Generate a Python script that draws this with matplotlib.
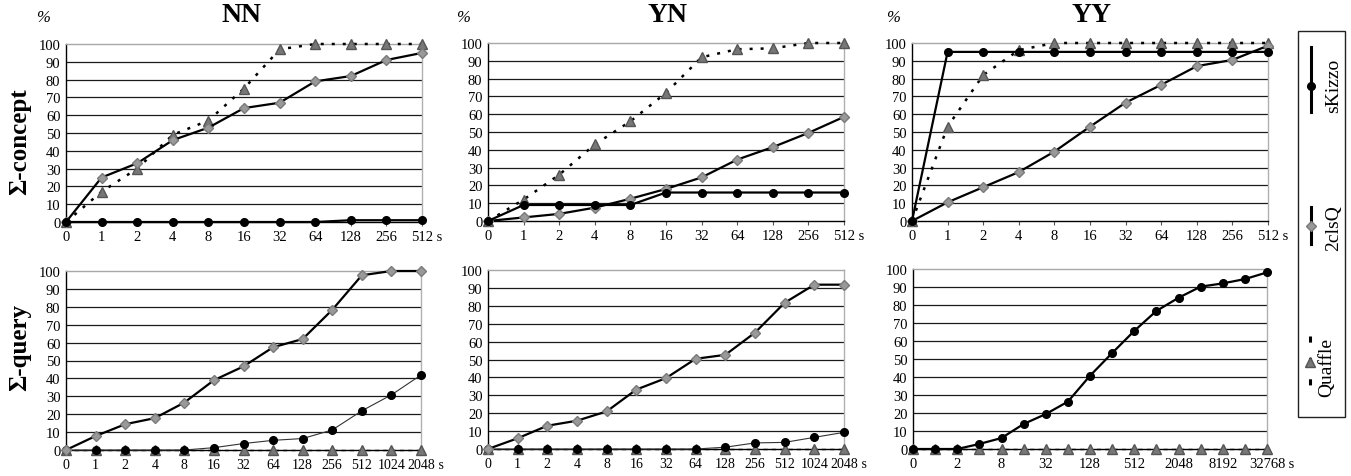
"""Cumulative solved-instance curves for sKizzo, 2clsQ and Quaffle (NN / YN / YY)."""

import matplotlib
matplotlib.use("Agg")
import matplotlib.pyplot as plt
from matplotlib.patches import Rectangle

plt.rcParams["font.family"] = ["Liberation Serif", "DejaVu Serif"]

W, H = 1351, 477

# ---- data -------------------------------------------------------------
top_times = ["0", "1", "2", "4", "8", "16", "32", "64", "128", "256", "512"]
bot_times = ["0", "1", "2", "4", "8", "16", "32", "64", "128", "256", "512",
             "1024", "2048"]
yy_query_times = ["0", "", "2", "", "8", "", "32", "", "128", "", "512", "",
                  "2048", "", "8192", "", "32768"]
time_unit = "s"

# Sigma-concept
nn_con_quaffle = [0, 17, 30, 49, 57, 75, 97, 100, 100, 100, 100]
nn_con_2clsq = [0, 25, 33, 46, 53, 64, 67, 79, 82, 91, 95]
nn_con_skizzo = [0, 0, 0, 0, 0, 0, 0, 0, 1, 1, 1]

yn_con_quaffle = [0, 12, 26, 43, 56, 72, 92, 96.5, 97, 100, 100]
yn_con_2clsq = [0, 2, 4, 7.5, 12.5, 18, 24.5, 34.5, 41.5, 49.5, 58.5]
yn_con_skizzo = [0, 9, 9, 9, 9, 16, 16, 16, 16, 16, 16]

yy_con_quaffle = [0, 53, 82, 96, 100, 100, 100, 100, 100, 100, 100]
yy_con_2clsq = [0, 10.5, 19, 27.5, 39, 53, 66.5, 76.5, 87, 90.5, 98.5]
yy_con_skizzo = [0, 95, 95, 95, 95, 95, 95, 95, 95, 95, 95]

# Sigma-query
nn_q_quaffle = [0, 0, 0, 0, 0, 0, 0, 0, 0, 0, 0, 0, 0]
nn_q_2clsq = [0, 7.8, 14.4, 17.8, 26.5, 39, 46.7, 57.4, 62, 78.3, 97.6, 100, 100]
nn_q_skizzo = [0, 0, 0, 0, 0, 1.3, 3.6, 5.4, 6.4, 11.2, 21.9, 30.8, 41.9]

yn_q_quaffle = [0, 0, 0, 0, 0, 0, 0, 0, 0, 0, 0, 0, 0]
yn_q_2clsq = [0, 6, 13, 15.8, 21, 33.2, 39.6, 50.4, 52.6, 65, 81.7, 91.8, 91.8]
yn_q_skizzo = [0, 0, 0, 0, 0, 0, 0, 0, 1, 3.4, 3.7, 6.5, 9.3]

yy_q_quaffle = [0] * 17
yy_q_skizzo = [0, 0, 0, 2.8, 6.1, 13.9, 19.4, 26.3, 40.7, 53.3, 65.6, 76.7,
               84, 90.2, 92, 94.4, 98.1]

titles = ["NN", "YN", "YY"]
row_labels = ["\u03a3-concept", "\u03a3-query"]
series_names = ["sKizzo", "2clsQ", "Quaffle"]

# ---- styles -----------------------------------------------------------
SK = dict(color="black", lw=1.6, marker="o", ms=5.5, mfc="black", mec="black")
SK_THIN = dict(color="#333333", lw=0.8, marker="o", ms=5.5, mfc="black", mec="black")
CQ = dict(color="black", lw=1.6, marker="D", ms=4.6, mfc="#999999", mec="#7a7a7a")
QF = dict(color="black", lw=1.8, ls=(0, (1.2, 3.2)), marker="^", ms=7.5,
          mfc="#777777", mec="#555555")
QF_DASH = dict(color="black", lw=1.0, ls=(0, (3, 3)), marker="^", ms=7.5,
               mfc="#777777", mec="#555555")

TICK_FS = 10.5


def px_axes(fig, left, top, right, bottom):
    return fig.add_axes([left / W, 1 - bottom / H, (right - left) / W, (bottom - top) / H])


def style_axes(ax, labels, xfs=TICK_FS):
    n = len(labels)
    ax.set_xlim(0, n - 1)
    ax.set_ylim(0, 100)
    ax.set_xticks(range(n))
    ax.set_xticklabels(labels, fontsize=xfs)
    ax.set_yticks(range(0, 101, 10))
    ax.set_yticklabels([str(v) for v in range(0, 101, 10)], fontsize=TICK_FS)
    ax.tick_params(axis="x", length=3, width=0.8, pad=3, color="#555555")
    ax.tick_params(axis="y", length=0, pad=4)
    for v in range(10, 100, 10):
        ax.axhline(v, color="#1a1a1a", lw=0.9, zorder=1)
    ax.spines["top"].set_color("#a8a8a8")
    ax.spines["right"].set_color("#b0b0b0")
    ax.spines["left"].set_color("black")
    ax.spines["bottom"].set_color("black")
    for s in ax.spines.values():
        s.set_linewidth(1.0)
    # unit after the last category label
    last = ax.get_xticklabels()[-1]
    ax.annotate(" " + time_unit, xy=(1, 0.5), xycoords=last, ha="left",
                va="center", fontsize=xfs)


def plot(ax, y, style):
    ax.plot(range(len(y)), y, clip_on=False, zorder=3, **style)


fig = plt.figure(figsize=(W / 100, H / 100), dpi=100, facecolor="white")

top_boxes = [(66, 45, 422, 223), (488, 44, 844, 222), (912, 44, 1268, 222)]
bot_boxes = [(66, 272, 421, 451), (488, 271, 844, 450), (913, 270, 1267, 450)]

top_data = [
    (nn_con_quaffle, nn_con_2clsq, nn_con_skizzo),
    (yn_con_quaffle, yn_con_2clsq, yn_con_skizzo),
    (yy_con_quaffle, yy_con_2clsq, yy_con_skizzo),
]

for box, (qf, cq, sk) in zip(top_boxes, top_data):
    ax = px_axes(fig, *box)
    style_axes(ax, top_times)
    plot(ax, qf, QF)
    plot(ax, cq, CQ)
    plot(ax, sk, SK)

# bottom row
ax = px_axes(fig, *bot_boxes[0])
style_axes(ax, bot_times, xfs=10)
plot(ax, nn_q_quaffle, QF_DASH)
plot(ax, nn_q_skizzo, SK_THIN)
plot(ax, nn_q_2clsq, CQ)

ax = px_axes(fig, *bot_boxes[1])
style_axes(ax, bot_times, xfs=10)
plot(ax, yn_q_quaffle, QF_DASH)
plot(ax, yn_q_skizzo, SK_THIN)
plot(ax, yn_q_2clsq, CQ)

ax = px_axes(fig, *bot_boxes[2])
style_axes(ax, yy_query_times)
plot(ax, yy_q_quaffle, QF_DASH)
plot(ax, yy_q_skizzo, SK)


def ftext(x, y, s, **kw):
    fig.text(x / W, 1 - y / H, s, **kw)


for x, t in zip([242, 668, 1091], titles):
    ftext(x, 16, t, fontsize=20, fontweight="bold", ha="center", va="center")
for x in [43, 463, 893]:
    ftext(x, 18, "%", fontsize=12, style="italic", ha="center", va="center")
ftext(20, 142, row_labels[0], fontsize=18, fontweight="bold", rotation=90,
      ha="center", va="center")
ftext(20, 348, row_labels[1], fontsize=18, fontweight="bold", rotation=90,
      ha="center", va="center")

# ---- legend (vertical, rotated text) ----------------------------------
lx0, ly0, lx1, ly1 = 1298, 32, 1345, 418
lax = px_axes(fig, lx0, ly0, lx1, ly1)
lax.set_xlim(lx0, lx1)
lax.set_ylim(ly1, ly0)
lax.axis("off")
lax.add_patch(Rectangle((lx0, ly0), lx1 - lx0, ly1 - ly0, fill=False,
                        ec="#222222", lw=1.0, clip_on=False))

lax.plot([1311, 1311], [48, 113], color="black", lw=2.2)
lax.plot([1311], [87], marker="o", ms=5.5, color="black")
lax.text(1334, 86, series_names[0], fontsize=14, rotation=90, ha="center", va="center")

lax.plot([1311, 1311], [208, 245], color="black", lw=2.2)
lax.plot([1311], [227], marker="D", ms=4.6, mfc="#999999", mec="#7a7a7a")
lax.text(1334, 228, series_names[1], fontsize=14, rotation=90, ha="center", va="center")

lax.plot([1310, 1310], [337, 393], color="black", lw=2.2, ls=(0, (2, 5)))
lax.plot([1310], [363], marker="^", ms=7.5, mfc="#777777", mec="#555555")
lax.text(1327, 368, series_names[2], fontsize=14, rotation=90, ha="center", va="center")

fig.savefig("out.png", dpi=100, facecolor="white")
